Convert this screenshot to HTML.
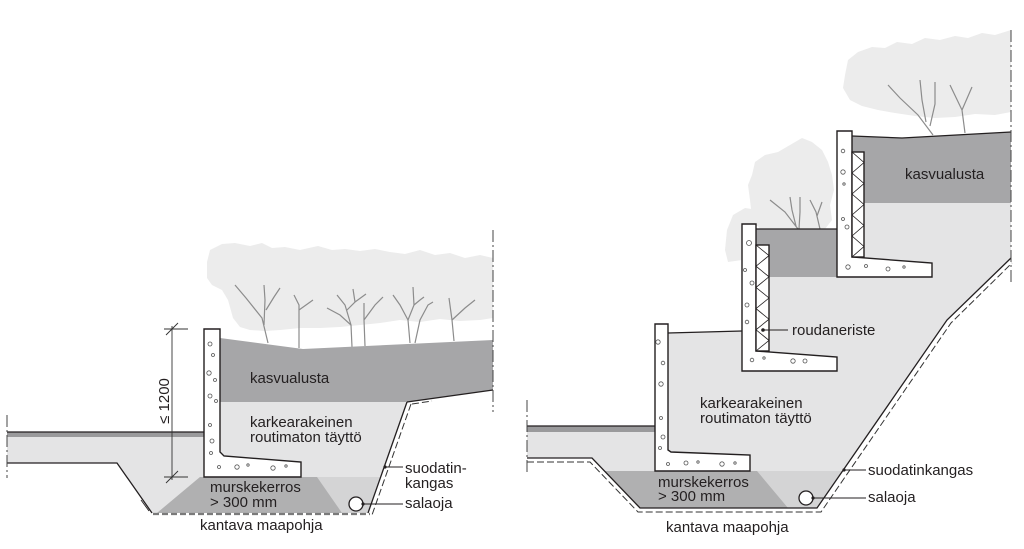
<!DOCTYPE html>
<html><head><meta charset="utf-8"><style>
html,body{margin:0;padding:0;background:#fff;}
svg{display:block;}
text{font-family:"Liberation Sans",sans-serif;font-size:15px;fill:#231f20;}
</style></head><body>
<svg width="1024" height="549" viewBox="0 0 1024 549" xmlns="http://www.w3.org/2000/svg">
<rect width="1024" height="549" fill="#fff"/>

<!-- ================= LEFT DIAGRAM ================= -->
<path d="M207,262 L210,250 L222,244 L235,243 L250,246 L262,243 L272,248 L285,247 L300,250 L318,246 L332,250 L345,249 L360,251 L375,249 L390,252 L405,254 L420,250 L435,255 L450,253 L465,258 L480,255 L493,258 L493,318 L480,320 L460,321 L440,319 L420,322 L400,320 L380,323 L360,325 L340,327 L320,328 L300,328 L280,330 L265,331 L250,330 L240,327 L233,318 L228,300 L222,290 L212,285 L207,278 Z" fill="#ececec"/>
<g stroke="#8c8c8c" stroke-width="1.2" fill="none">
<path d="M268,343 L262,318 L246,298 L235,285 M264,325 L265,300 L264,285 M266,310 L274,297 L280,288"/>
<path d="M299,348 L299,305 L294,295 M299,310 L313,300"/>
<path d="M352,347 L351,325 L340,315 L327,308 M351,325 L345,305 L337,295 M347,310 L355,302 L353,289 M355,302 L366,294"/>
<path d="M365,346 L364,320 L364,303 M364,320 L375,305 L383,297"/>
<path d="M410,343 L408,320 L400,305 L393,295 M408,320 L414,305 L413,287 M414,305 L420,300 L424,297"/>
<path d="M415,343 L420,320 L428,305 L433,302"/>
<path d="M454,341 L452,320 L449,298 M452,320 L465,308 L475,300"/>
</g>
<path d="M7,432 L204,432 L204,402 L407,402 L368,513 L152,513 L117,463 L7,463 Z" fill="#e4e4e5"/>
<rect x="7" y="432" width="197" height="5" fill="#9a9a9c"/>
<path d="M220,338 L303,349 L493,340 L493,390 L407,402 L220,402 Z" fill="#a6a6a8"/>
<path d="M200,477 L381,477 L368,513 L157,513 Z" fill="#d4d4d5"/>
<path d="M157,513 L200,477 L317,477 L342,513 Z" fill="#b0b0b1"/>
<g stroke="#231f20" stroke-width="1.3" fill="none">
<path d="M7,432 L204,432"/>
<path d="M7,463 L117,463 L152,513"/>
<path d="M407,402 L368,513"/>
<path d="M407,402 L493,390"/>
</g>
<path d="M141,500 L149,511" stroke="#231f20" stroke-width="0.9"/>
<path d="M411,404 L372,515" stroke="#333" stroke-width="1" stroke-dasharray="7,3" fill="none"/>
<path d="M412,404 L432,401" stroke="#333" stroke-width="1" stroke-dasharray="7,3" fill="none"/>
<path d="M153,514 L370,514" stroke="#7a7a7a" stroke-width="2.2" stroke-dasharray="6,3" fill="none"/>
<path d="M204,329 H220 V452 L224,456 L301,462 V477 H204 Z" fill="#fff" stroke="#231f20" stroke-width="1.4"/>
<g fill="#fff" stroke="#555" stroke-width="0.8">
<circle cx="210" cy="344" r="2"/><circle cx="213" cy="355" r="1.5"/><circle cx="209" cy="373" r="2.2"/><circle cx="215" cy="380" r="1.5"/><circle cx="210" cy="396" r="2"/><circle cx="216" cy="401" r="1.5"/><circle cx="210" cy="425" r="1.5"/><circle cx="212" cy="441" r="2"/><circle cx="211" cy="453" r="1.5"/><circle cx="219" cy="467" r="1.5"/><circle cx="237" cy="467" r="2.2"/><circle cx="248" cy="465" r="1.2"/><circle cx="273" cy="468" r="2.2"/><circle cx="286" cy="466" r="1.2"/>
</g>
<g stroke="#333" stroke-width="0.9" fill="none">
<path d="M172,326 V480"/>
<path d="M164,329 H188 M166,335 L178,323"/>
<path d="M164,477 H188 M166,483 L178,471"/>
</g>
<text transform="translate(169,401) rotate(-90)" text-anchor="middle">≤ 1200</text>
<g stroke="#444" stroke-width="1" stroke-dasharray="12,3,2,3" fill="none">
<path d="M7,415 V478"/>
<path d="M493,230 V412"/>
</g>
<circle cx="356" cy="504" r="7" fill="#fff" stroke="#231f20" stroke-width="1.3"/>
<path d="M363,504 H403 M385,467 H403" stroke="#231f20" stroke-width="1"/>
<circle cx="363" cy="504" r="1.6" fill="#231f20"/>
<circle cx="385" cy="467" r="1.6" fill="#231f20"/>
<text x="250" y="383">kasvualusta</text>
<text x="250" y="427">karkearakeinen</text>
<text x="250" y="442">routimaton täyttö</text>
<text x="210" y="492">murskekerros</text>
<text x="210" y="507">&gt; 300 mm</text>
<text x="200" y="530">kantava maapohja</text>
<text x="405" y="473">suodatin-</text>
<text x="405" y="488">kangas</text>
<text x="405" y="508">salaoja</text>

<!-- ================= RIGHT DIAGRAM ================= -->
<g fill="#ececec">
<path d="M845,75 L848,60 L858,52 L872,47 L885,48 L897,42 L912,44 L925,38 L940,40 L955,36 L968,38 L982,33 L995,35 L1011,30 L1011,112 L995,115 L975,114 L955,117 L935,118 L915,116 L895,113 L878,110 L862,106 L850,100 L843,88 Z"/>
<path d="M752,175 L755,162 L765,155 L778,152 L790,145 L802,138 L812,142 L822,150 L828,162 L832,175 L834,190 L830,205 L832,220 L825,229 L760,229 L752,218 L750,200 L748,185 Z"/>
<path d="M725,250 L727,230 L733,215 L745,208 L758,210 L765,218 L762,226 L742,226 L742,260 L728,262 Z"/>
</g>
<g stroke="#8c8c8c" stroke-width="1.2" fill="none">
<path d="M933,135 L918,115 L900,98 L888,85 M926,122 L922,100 L920,80 M930,126 L935,104 L935,82"/>
<path d="M965,133 L962,110 L950,85 M962,110 L972,87"/>
<path d="M798,229 L785,212 L770,200 M796,226 L792,210 L790,197 M799,229 L800,212 L800,197"/>
<path d="M820,229 L816,212 L810,200 M817,216 L822,202"/>
</g>
<path d="M527,426 L668,426 L668,333 L742,331 L742,277 L837,277 L837,203 L1011,203 L1011,258 L947,320 L817,508 L640,508 L592,458 L527,458 Z" fill="#e4e4e5"/>
<rect x="527" y="426" width="128" height="6" fill="#9a9a9c"/>
<path d="M756,229 L837,229 L837,277 L756,277 Z" fill="#a6a6a8"/>
<path d="M852,136 L902,138 L1011,132 L1011,203 L852,203 Z" fill="#a6a6a8"/>
<path d="M605,471 L843,471 L817,508 L640,508 Z" fill="#d4d4d5"/>
<path d="M605,471 L757,471 L788,508 L640,508 Z" fill="#b0b0b1"/>
<g stroke="#231f20" stroke-width="1.3" fill="none">
<path d="M527,426 L655,426"/>
<path d="M527,458 L592,458 L640,508 L817,508 L947,320 L1011,258"/>
<path d="M668,333 L742,331"/>
<path d="M756,229 L837,229"/>
<path d="M852,136 L902,138 L1011,132"/>
</g>
<g stroke="#333" stroke-width="1" stroke-dasharray="7,3" fill="none">
<path d="M527,462 L590,462 L638,512 L821,512 L951,323 L1012,263"/>
</g>
<g fill="#fff" stroke="#231f20" stroke-width="1.4">
<path d="M655,324 H668 V450 L671,452 L750,455 V471 H655 Z"/>
<path d="M742,224 H756 V351 L837,357 V371 H742 Z"/>
<path d="M837,131 H852 V257 L932,263 V277 H837 Z"/>
<rect x="756" y="245" width="13" height="106"/>
<rect x="852" y="152" width="12" height="105"/>
</g>
<g stroke="#231f20" stroke-width="0.8" fill="none">
<path d="M756,245 L769,255.6 L756,266.2 L769,276.8 L756,287.4 L769,298 L756,308.6 L769,319.2 L756,329.8 L769,340.4 L756,351"/>
<path d="M852,152 L864,162.5 L852,173 L864,183.5 L852,194 L864,204.5 L852,215 L864,225.5 L852,236 L864,246.5 L852,257"/>
</g>
<g fill="#fff" stroke="#555" stroke-width="0.8">
<circle cx="658" cy="342" r="2.2"/><circle cx="663" cy="363" r="1.8"/><circle cx="661" cy="384" r="2.2"/><circle cx="661" cy="418" r="1.5"/><circle cx="663" cy="437" r="2"/><circle cx="660" cy="448" r="1.5"/><circle cx="668" cy="464" r="1.5"/><circle cx="686" cy="463" r="2"/><circle cx="698" cy="462" r="1.2"/><circle cx="722" cy="464" r="2.2"/><circle cx="735" cy="463" r="1.2"/>
<circle cx="749" cy="243" r="2.5"/><circle cx="745" cy="270" r="1.5"/><circle cx="752" cy="283" r="2"/><circle cx="747" cy="305" r="2"/><circle cx="747" cy="322" r="1.8"/><circle cx="752" cy="360" r="1.8"/><circle cx="764" cy="358" r="1.2"/><circle cx="793" cy="361" r="2.2"/><circle cx="805" cy="361" r="2"/>
<circle cx="843" cy="151" r="1.8"/><circle cx="843" cy="172" r="2.2"/><circle cx="844" cy="184" r="1.2"/><circle cx="843" cy="219" r="1.5"/><circle cx="847" cy="227" r="2"/><circle cx="848" cy="267" r="2.2"/><circle cx="866" cy="266" r="1.5"/><circle cx="888" cy="269" r="2"/><circle cx="904" cy="267" r="1.2"/>
</g>
<g stroke="#444" stroke-width="1" stroke-dasharray="12,3,2,3" fill="none">
<path d="M527,400 V475"/>
<path d="M1011,30 V283"/>
</g>
<circle cx="806" cy="498" r="7" fill="#fff" stroke="#231f20" stroke-width="1.3"/>
<path d="M813,498 H866 M844,470 H866 M763,330 H788" stroke="#231f20" stroke-width="1"/>
<circle cx="813" cy="498" r="1.6" fill="#231f20"/>
<circle cx="844" cy="470" r="1.6" fill="#231f20"/>
<circle cx="763" cy="330" r="1.8" fill="#231f20"/>
<text x="905" y="179">kasvualusta</text>
<text x="792" y="335">roudaneriste</text>
<text x="700" y="408">karkearakeinen</text>
<text x="700" y="423">routimaton täyttö</text>
<text x="658" y="487">murskekerros</text>
<text x="658" y="501">&gt; 300 mm</text>
<text x="666" y="532">kantava maapohja</text>
<text x="868" y="475">suodatinkangas</text>
<text x="868" y="502">salaoja</text>
</svg>
</body></html>
